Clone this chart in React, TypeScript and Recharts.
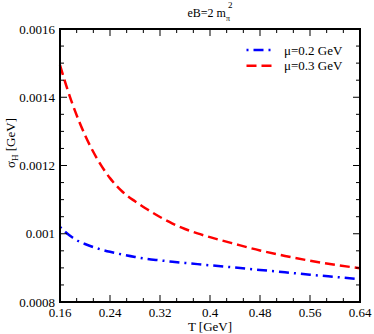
import React from 'react';
import { LineChart, Line, XAxis, YAxis, Legend } from 'recharts';

// temperature grid [GeV]
const temps = [0.16, 0.17, 0.18, 0.19, 0.2, 0.22, 0.24, 0.26, 0.28, 0.3, 0.32, 0.34, 0.36, 0.38, 0.4, 0.44, 0.48, 0.52, 0.56, 0.6, 0.64];

// sigma_H [GeV] for mu = 0.2 GeV
const sigmaMu02 = [0.00102, 0.001003, 0.000989, 0.000978, 0.00097, 0.000957, 0.000947, 0.000939, 0.000932, 0.000926, 0.000922, 0.000918, 0.0009145, 0.000911, 0.0009075, 0.000901, 0.000894, 0.000887, 0.00088, 0.0008735, 0.000867];

// sigma_H [GeV] for mu = 0.3 GeV
const sigmaMu03 = [0.001494, 0.001434, 0.00138, 0.001332, 0.001289, 0.001218, 0.001163, 0.001123, 0.001095, 0.001071, 0.001049, 0.00103, 0.001014, 0.001001, 0.00099, 0.00097, 0.000951, 0.000935, 0.000921, 0.000909, 0.000899];

const xTicks = [0.16, 0.24, 0.32, 0.4, 0.48, 0.56, 0.64];
const xTickLabels = ['0.16', '0.24', '0.32', '0.4', '0.48', '0.56', '0.64'];
const yTicks = [0.0008, 0.001, 0.0012, 0.0014, 0.0016];
const yTickLabels = ['0.0008', '0.001', '0.0012', '0.0014', '0.0016'];

const series = [
  { key: 'mu02', name: 'μ=0.2 GeV', color: '#0000ff', dash: '2 5 10 5' },
  { key: 'mu03', name: 'μ=0.3 GeV', color: '#ff0000', dash: '10 5' },
];

const data = temps.map((t, i) => ({ T: t, mu02: sigmaMu02[i], mu03: sigmaMu03[i] }));

const r6 = (v: number) => Number(v.toFixed(6));

// 2 minor ticks between x majors, 3 between y majors
const xAll: number[] = [];
xTicks.forEach((t, i) => {
  xAll.push(t);
  if (i < xTicks.length - 1) {
    const step = (xTicks[i + 1] - t) / 3;
    xAll.push(r6(t + step), r6(t + 2 * step));
  }
});
const yAll: number[] = [];
yTicks.forEach((t, i) => {
  yAll.push(t);
  if (i < yTicks.length - 1) {
    const step = (yTicks[i + 1] - t) / 4;
    for (let k = 1; k < 4; k++) yAll.push(r6(t + k * step));
  }
});

const majorIdx = (list: number[], v: number) => list.findIndex((m) => Math.abs(m - v) < 1e-9);

const FONT = '"Liberation Serif", "DejaVu Serif", serif';
const TICK = '#000';

const BottomTick = (p: any) => {
  const i = majorIdx(xTicks, p.payload.value);
  const len = i >= 0 ? 7 : 4;
  return (
    <g>
      <line x1={p.x} y1={p.y} x2={p.x} y2={p.y - len} stroke={TICK} strokeWidth={1} />
      {i >= 0 && (
        <text x={p.x} y={p.y + 14.5} textAnchor="middle" fontSize={13} fontFamily={FONT} fill="#000">
          {xTickLabels[i]}
        </text>
      )}
    </g>
  );
};

const TopTick = (p: any) => {
  const len = majorIdx(xTicks, p.payload.value) >= 0 ? 7 : 4;
  return <line x1={p.x} y1={p.y} x2={p.x} y2={p.y + len} stroke={TICK} strokeWidth={1} />;
};

const LeftTick = (p: any) => {
  const i = majorIdx(yTicks, p.payload.value);
  const len = i >= 0 ? 7 : 4;
  return (
    <g>
      <line x1={p.x} y1={p.y} x2={p.x + len} y2={p.y} stroke={TICK} strokeWidth={1} />
      {i >= 0 && (
        <text x={p.x - 5} y={p.y} dy="0.35em" textAnchor="end" fontSize={13} fontFamily={FONT} fill="#000">
          {yTickLabels[i]}
        </text>
      )}
    </g>
  );
};

const RightTick = (p: any) => {
  const len = majorIdx(yTicks, p.payload.value) >= 0 ? 7 : 4;
  return <line x1={p.x} y1={p.y} x2={p.x - len} y2={p.y} stroke={TICK} strokeWidth={1} />;
};

const frame = { stroke: '#000', strokeWidth: 2, strokeLinecap: 'square' as const };

const LegendBox = () => (
  <svg width={110} height={36} style={{ display: 'block' }}>
    {series.map((s, i) => (
      <g key={s.key}>
        <line x1={2.5} x2={29} y1={10 + i * 15.7} y2={10 + i * 15.7} stroke={s.color} strokeWidth={2.5} strokeDasharray={s.dash} />
        <text x={40} y={14.5 + i * 15.7} fontSize={13} fontFamily={FONT} fill="#000">
          {s.name}
        </text>
      </g>
    ))}
  </svg>
);

export default function App() {
  return (
    <div style={{ width: 374, height: 334, background: '#fff', fontFamily: FONT }}>
      <style>{'body{margin:0}'}</style>
      <LineChart width={374} height={334} data={data} margin={{ top: 28, right: 13, bottom: 0, left: 0 }}>
        <XAxis
          dataKey="T"
          type="number"
          domain={[0.16, 0.64]}
          ticks={xAll}
          interval={0}
          height={32}
          tickSize={0}
          tickMargin={0}
          tickLine={false}
          tick={BottomTick}
          axisLine={frame}
          label={{
            content: (props: any) => {
              const vb = props.viewBox;
              return (
                <text x={vb.x + vb.width / 2} y={vb.y + 29} textAnchor="middle" fontSize={13} fontFamily={FONT} fill="#000">
                  T [GeV]
                </text>
              );
            },
          }}
        />
        <XAxis
          xAxisId="top"
          orientation="top"
          dataKey="T"
          type="number"
          domain={[0.16, 0.64]}
          ticks={xAll}
          interval={0}
          height={1}
          tickSize={0}
          tickMargin={0}
          tickLine={false}
          tick={TopTick}
          axisLine={frame}
          label={{
            content: (props: any) => {
              const vb = props.viewBox;
              return (
                <text x={vb.x + vb.width / 2} y={17} textAnchor="middle" fontSize={12} fontFamily={FONT} fill="#000">
                  eB=2 m
                  <tspan fontSize={8} dy={4}>π</tspan>
                  <tspan fontSize={9} dy={-13} dx={-2}>2</tspan>
                </text>
              );
            },
          }}
        />
        <YAxis
          type="number"
          domain={[0.0008, 0.0016]}
          ticks={yAll}
          interval={0}
          width={60}
          tickSize={0}
          tickMargin={0}
          tickLine={false}
          tick={LeftTick}
          axisLine={frame}
          label={{
            content: () => (
              <text transform="translate(15,168) rotate(-90)" fontSize={13} fontFamily={FONT} fill="#000">
                σ
                <tspan fontSize={9} dy={3}>H</tspan>
                <tspan dy={-3}> [GeV]</tspan>
              </text>
            ),
          }}
        />
        <YAxis
          yAxisId="right"
          orientation="right"
          type="number"
          domain={[0.0008, 0.0016]}
          ticks={yAll}
          interval={0}
          width={1}
          tickSize={0}
          tickMargin={0}
          tickLine={false}
          tick={RightTick}
          axisLine={frame}
        />
        <Legend
          layout="vertical"
          align="center"
          verticalAlign="middle"
          wrapperStyle={{ top: 40, left: 244, width: 110, height: 36 }}
          content={() => <LegendBox />}
        />
        {series.map((s, i) => (
          <Line
            key={s.key}
            xAxisId={i === 1 ? 'top' : 0}
            yAxisId={i === 1 ? 'right' : 0}
            type="monotone"
            dataKey={s.key}
            name={s.name}
            stroke={s.color}
            strokeWidth={2.5}
            strokeDasharray={s.dash}
            dot={false}
            isAnimationActive={false}
          />
        ))}
      </LineChart>
    </div>
  );
}
